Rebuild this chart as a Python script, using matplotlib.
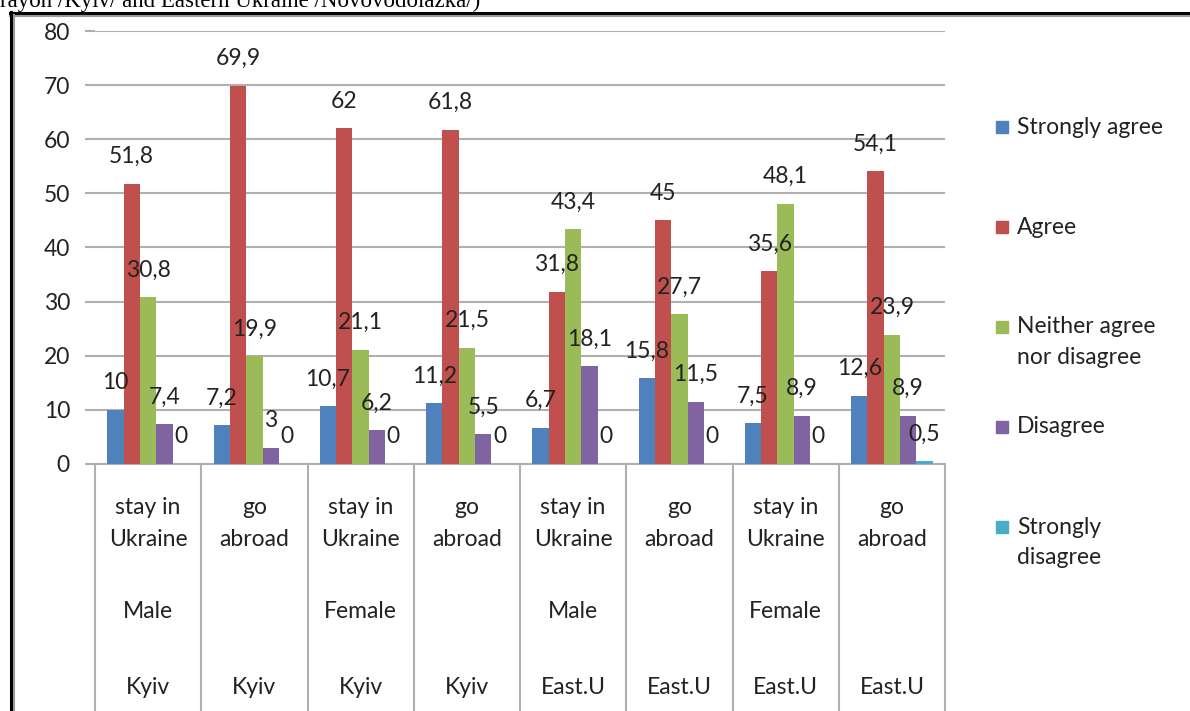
import numpy as np
import matplotlib.pyplot as plt
from matplotlib.lines import Line2D
from matplotlib.patches import Rectangle
from matplotlib import transforms

# Chart data
plans = ["stay in\nUkraine", "go\nabroad", "stay in\nUkraine", "go\nabroad",
         "stay in\nUkraine", "go\nabroad", "stay in\nUkraine", "go\nabroad"]
genders = ["Male", "", "Female", "", "Male", "", "Female", ""]
regions = ["Kyiv", "Kyiv", "Kyiv", "Kyiv", "East.U", "East.U", "East.U", "East.U"]

series_names = ["Strongly agree", "Agree", "Neither agree\nnor disagree",
                "Disagree", "Strongly\ndisagree"]
strongly_agree = [10, 7.2, 10.7, 11.2, 6.7, 15.8, 7.5, 12.6]
agree = [51.8, 69.9, 62, 61.8, 31.8, 45, 35.6, 54.1]
neither = [30.8, 19.9, 21.1, 21.5, 43.4, 27.7, 48.1, 23.9]
disagree = [7.4, 3, 6.2, 5.5, 18.1, 11.5, 8.9, 8.9]
strongly_disagree = [0, 0, 0, 0, 0, 0, 0, 0.5]
series = [strongly_agree, agree, neither, disagree, strongly_disagree]

colors = ["#4F81BD", "#C0504D", "#9BBB59", "#8064A2", "#4BACC6"]
grid_col = "#b0b0b0"
txt_col = "#222222"

plt.rcParams['font.family'] = ['Lato', 'DejaVu Sans']
fs = 16.5

W, H = 1190, 711
fig = plt.figure(figsize=(W / 100, H / 100), dpi=100)
ax = fig.add_axes([95 / W, (H - 464) / H, 850 / W, 433 / H])

n = len(plans)
x = np.arange(n)
bw = 1 / 6.5
for i, vals in enumerate(series):
    xs = x + (i - 2) * bw
    ax.bar(xs, vals, width=bw, color=colors[i], zorder=3)
    for xi, v in zip(xs, vals):
        lab = f"{v:g}".replace('.', ',')
        ax.annotate(lab, (xi, v), xytext=(0, 19.5), textcoords='offset points',
                    ha='center', va='center', fontsize=fs, color=txt_col, zorder=4)

ax.set_xlim(-0.5, n - 0.5)
ax.set_ylim(0, 80)
ax.set_yticks(range(0, 81, 10))
ax.yaxis.grid(True, color=grid_col, lw=1.5, zorder=0)
ax.tick_params(axis='y', length=7, width=1.5, color=grid_col, pad=11,
               labelsize=fs, labelcolor=txt_col)
ax.tick_params(axis='x', bottom=False, labelbottom=False)
for s in ['top', 'right', 'left']:
    ax.spines[s].set_visible(False)
ax.spines['bottom'].set_color(grid_col)
ax.spines['bottom'].set_linewidth(1.5)

# category dividers running down through the labels
for b in np.arange(-0.5, n, 1.0):
    ax.plot([b, b], [0, -(H - 464) / 433 - 0.01], transform=ax.get_xaxis_transform(),
            color=grid_col, lw=1.5, clip_on=False, zorder=1)

tr = transforms.blended_transform_factory(ax.transData, fig.transFigure)
for i in range(n):
    for k, line in enumerate(plans[i].split("\n")):
        ax.text(x[i], 1 - (508 + 32 * k) / H, line, transform=tr, ha='center',
                va='center', fontsize=fs, color=txt_col)
    ax.text(x[i], 1 - 612 / H, genders[i], transform=tr, ha='center', va='center',
            fontsize=fs, color=txt_col)
    ax.text(x[i], 1 - 688 / H, regions[i], transform=tr, ha='center', va='center',
            fontsize=fs, color=txt_col)

# legend
leg_y = [127, 227, 327, 427, 527]
for name, col, yy in zip(series_names, colors, leg_y):
    fig.add_artist(Rectangle((996 / W, 1 - (yy + 6) / H), 12 / W, 12 / H,
                             transform=fig.transFigure, color=col))
    for k, line in enumerate(name.split("\n")):
        fig.text(1017 / W, 1 - (yy + 30 * k) / H, line, ha='left', va='center',
                 fontsize=fs, color=txt_col)

# frame from the page
fig.add_artist(Line2D([10 / W, 1], [1 - 13 / H] * 2, transform=fig.transFigure,
                      color='black', lw=2.2))
fig.add_artist(Line2D([10 / W, 1], [1 - 15.5 / H] * 2, transform=fig.transFigure,
                      color='#999999', lw=1.5))
fig.add_artist(Line2D([11 / W] * 2, [0, 1 - 12 / H], transform=fig.transFigure,
                      color='black', lw=2.2))
fig.add_artist(Line2D([13.5 / W] * 2, [0, 1 - 15 / H], transform=fig.transFigure,
                      color='#999999', lw=1.5))

fig.text(0, 1 - 7 / H, "rayon /Kyiv/ and Eastern Ukraine /Novovodolazka/)",
         family='Liberation Serif', fontsize=16.5, ha='left', va='baseline')

fig.savefig("out.png", dpi=100)
